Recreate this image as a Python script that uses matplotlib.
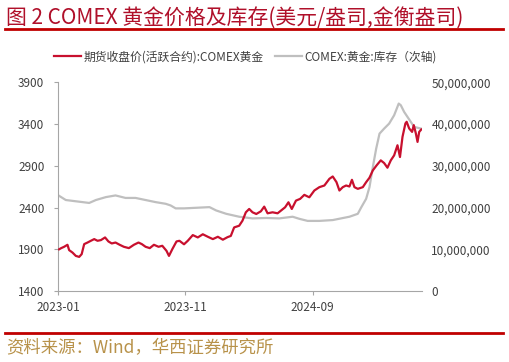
import matplotlib
matplotlib.use("Agg")
import matplotlib.pyplot as plt
import matplotlib.dates as mdates
import pandas as pd
from matplotlib.ticker import FuncFormatter, FixedLocator
from matplotlib.lines import Line2D

plt.rcParams['font.family'] = ['Noto Sans CJK SC', 'DejaVu Sans']

# ---------------- data ----------------
price_dates = [
    "2023-01-03", "2023-01-08", "2023-01-15", "2023-01-23", "2023-01-27", "2023-02-04",
    "2023-02-12", "2023-02-20", "2023-02-26", "2023-03-04", "2023-03-12", "2023-03-20",
    "2023-03-28", "2023-04-05", "2023-04-13", "2023-04-23", "2023-05-01", "2023-05-09",
    "2023-05-18", "2023-05-28", "2023-06-07", "2023-06-19", "2023-07-01", "2023-07-12",
    "2023-07-20", "2023-07-29", "2023-08-08", "2023-08-18", "2023-08-29", "2023-09-07",
    "2023-09-17", "2023-09-23", "2023-10-01", "2023-10-11", "2023-10-18", "2023-10-29",
    "2023-11-07", "2023-11-19", "2023-12-01", "2023-12-13", "2023-12-25", "2024-01-06",
    "2024-01-18", "2024-01-30", "2024-02-10", "2024-02-18", "2024-02-26", "2024-03-09",
    "2024-03-17", "2024-03-25", "2024-04-02", "2024-04-10", "2024-04-19", "2024-04-30",
    "2024-05-08", "2024-05-16", "2024-05-28", "2024-06-09", "2024-06-17", "2024-06-27",
    "2024-07-05", "2024-07-13", "2024-07-23", "2024-08-02", "2024-08-12", "2024-08-20",
    "2024-08-24", "2024-09-05", "2024-09-17", "2024-09-29", "2024-10-11", "2024-10-19",
    "2024-10-28", "2024-11-04", "2024-11-12", "2024-11-20", "2024-11-28", "2024-12-04",
    "2024-12-10", "2024-12-18", "2024-12-30", "2025-01-07", "2025-01-15", "2025-01-23",
    "2025-02-01", "2025-02-11", "2025-02-19", "2025-02-27", "2025-03-07", "2025-03-15",
    "2025-03-23", "2025-03-29", "2025-04-04", "2025-04-11", "2025-04-14", "2025-04-20",
    "2025-04-27", "2025-05-01", "2025-05-06", "2025-05-10", "2025-05-14", "2025-05-19",
]
price_values = [
    1900, 1914, 1930, 1954, 1890, 1861,
    1821, 1809, 1842, 1962, 1981, 2002,
    2022, 2002, 2010, 2042, 1994, 1970,
    1981, 1954, 1930, 1914, 1954, 1981,
    1962, 1930, 1914, 1954, 1930, 1942,
    1882, 1821, 1902, 1994, 2002, 1960,
    2002, 2070, 2042, 2080, 2050, 2022,
    2050, 2015, 2045, 2060, 2162, 2182,
    2243, 2343, 2383, 2343, 2323, 2355,
    2411, 2331, 2343, 2331, 2363, 2403,
    2463, 2383, 2483, 2504, 2552, 2532,
    2523, 2604, 2644, 2664, 2744, 2772,
    2704, 2604, 2644, 2664, 2652, 2732,
    2644, 2624, 2644, 2704, 2757, 2845,
    2905, 2965, 2933, 2877, 2965, 3025,
    3146, 3005, 3246, 3407, 3427, 3347,
    3306, 3387, 3287, 3186, 3306, 3335,
]

stock_dates = [
    "2023-01-03", "2023-01-19", "2023-02-12", "2023-03-16", "2023-04-01", "2023-04-25",
    "2023-05-18", "2023-06-11", "2023-07-05", "2023-07-29", "2023-08-22", "2023-09-15",
    "2023-09-27", "2023-10-09", "2023-10-29", "2023-12-29", "2024-01-14", "2024-02-07",
    "2024-03-09", "2024-04-10", "2024-05-13", "2024-06-13", "2024-07-15", "2024-07-31",
    "2024-08-20", "2024-09-17", "2024-10-19", "2024-11-28", "2024-12-18", "2024-12-26",
    "2025-01-07", "2025-01-15", "2025-01-23", "2025-01-31", "2025-02-08", "2025-02-19",
    "2025-03-03", "2025-03-15", "2025-03-26", "2025-03-31", "2025-04-08", "2025-04-16",
    "2025-04-24", "2025-05-02", "2025-05-19",
]
stock_values = [
    22.8, 21.8, 21.5, 21.1, 21.8, 22.5,
    22.9, 22.3, 22.3, 21.8, 21.3, 20.9,
    20.5, 19.8, 19.8, 20.1, 19.3, 18.5,
    17.8, 17.4, 17.5, 17.4, 17.8, 17.3,
    16.8, 16.8, 17.0, 17.8, 18.5, 20.0,
    22.1, 24.9, 29.7, 34.1, 37.7, 38.9,
    40.1, 42.1, 44.9, 44.5, 42.9, 41.7,
    40.5, 39.3, 38.9,
]  # millions of troy ounces

x_tick_dates = ["2023-01-01", "2023-11-01", "2024-09-01"]
x_tick_labels = ["2023-01", "2023-11", "2024-09"]
left_ticks = [1400, 1900, 2400, 2900, 3400, 3900]
right_ticks = [0, 10_000_000, 20_000_000, 30_000_000, 40_000_000, 50_000_000]

title_text = "图 2 COMEX 黄金价格及库存(美元/盎司,金衡盎司)"
source_text = "资料来源：Wind，华西证券研究所"
label_price = "期货收盘价(活跃合约):COMEX黄金"
label_stock = "COMEX:黄金:库存（次轴)"

# ---------------- styling ----------------
RED = "#C8102E"
GRAY = "#BFBFBF"
TEXT = "#404040"
AXIS = "#A6A6A6"

fig = plt.figure(figsize=(5.09, 3.62), dpi=100)
fig.patch.set_facecolor("white")

ax = fig.add_axes([0.1145, 0.196, 0.714, 0.5767])
ax2 = ax.twinx()

pd_price = pd.to_datetime(price_dates)
pd_stock = pd.to_datetime(stock_dates)

ax2.plot(pd_stock, [v * 1e6 for v in stock_values], color=GRAY, lw=1.6, zorder=1)
ax.plot(pd_price, price_values, color=RED, lw=1.6, zorder=3)
ax.set_zorder(ax2.get_zorder() + 1)
ax.patch.set_visible(False)

ax.set_xlim(pd.Timestamp("2023-01-01"), pd.Timestamp("2025-05-20"))
ax.set_ylim(1400, 3900)
ax2.set_ylim(0, 50_000_000)

ax.set_yticks(left_ticks)
ax.set_yticklabels([str(t) for t in left_ticks])
ax2.set_yticks(right_ticks)
ax2.yaxis.set_major_formatter(FuncFormatter(lambda v, p: f"{int(v):,}"))

ax.xaxis.set_major_locator(FixedLocator(mdates.date2num(pd.to_datetime(x_tick_dates))))
ax.set_xticklabels(x_tick_labels)

for a in (ax, ax2):
    for s in ("top", "right", "left", "bottom"):
        a.spines[s].set_visible(False)
ax.spines["left"].set_visible(True)
ax.spines["bottom"].set_visible(True)
ax.spines["left"].set_color(AXIS)
ax.spines["bottom"].set_color(AXIS)
ax.spines["left"].set_linewidth(0.8)
ax.spines["bottom"].set_linewidth(0.8)

ax.tick_params(axis="y", colors=AXIS, labelcolor=TEXT, labelsize=8.5, length=3, width=0.8, pad=7)
ax.tick_params(axis="x", colors=AXIS, labelcolor=TEXT, labelsize=8.5, length=3, width=0.8, pad=4)
ax2.tick_params(axis="y", length=0, labelcolor=TEXT, labelsize=8.5, pad=7)

# legend
handles = [Line2D([], [], color=RED, lw=1.6), Line2D([], [], color=GRAY, lw=1.6)]
fig.legend(handles, [label_price, label_stock], loc="center", bbox_to_anchor=(0.482, 0.843),
           ncol=2, frameon=False, fontsize=8.5, handlelength=2.3, handletextpad=0.15,
           columnspacing=1.0, labelcolor=TEXT)

# title and rules
fig.text(0.012, 0.952, title_text, fontsize=15, color="#B0102A", ha="left", va="center")
fig.add_artist(Line2D([0.01, 0.988], [0.919, 0.919], transform=fig.transFigure, color="#C00000", lw=2))
fig.add_artist(Line2D([0.01, 0.988], [0.079, 0.079], transform=fig.transFigure, color="#C00000", lw=2))
fig.text(0.012, 0.039, source_text, fontsize=12.5, color="#B8924A", ha="left", va="center")

fig.savefig("out.png", dpi=100)
